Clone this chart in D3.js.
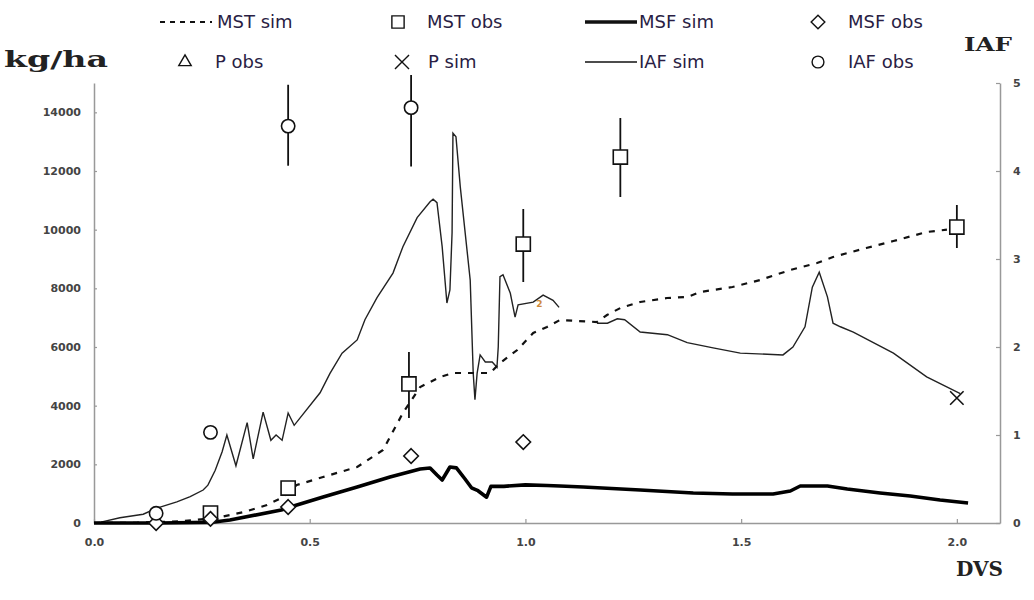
<!DOCTYPE html>
<html>
<head>
<meta charset="utf-8">
<script src="https://cdn.jsdelivr.net/npm/d3@7"></script>
<style>
  body { margin: 0; background: #fff; }
  svg { display: block; }
</style>
</head>
<body>
<div id="chart"></div>
<script>
// ---- data (DVS, value) ----
const mstSim = [[0,0],[0.1,10],[0.2,60],[0.27,150],[0.294,205],[0.348,375],[0.401,614],[0.434,850],
  [0.47,1295],[0.531,1568],[0.61,1909],[0.67,2489],[0.716,3750],[0.756,4636],[0.802,4977],[0.832,5114],
  [0.879,5114],[0.918,5114],[0.941,5454],[0.981,5897],[1.018,6477],[1.05,6682],[1.08,6920],[1.12,6886],
  [1.166,6852],[1.189,7090],[1.22,7329],[1.266,7534],[1.328,7670],[1.375,7704],[1.405,7875],[1.48,8045],
  [1.544,8284],[1.614,8625],[1.676,8863],[1.713,9068],[1.79,9375],[1.853,9613],[1.93,9920],[1.977,10000]];

const msfSim = [[0,0],[0.15,0],[0.27,20],[0.315,100],[0.434,443],[0.455,545],[0.531,886],[0.61,1227],
  [0.686,1568],[0.756,1841],[0.779,1875],[0.795,1636],[0.807,1466],[0.825,1909],[0.84,1880],[0.86,1500],
  [0.875,1200],[0.89,1100],[0.91,880],[0.92,1250],[0.95,1250],[1.0,1300],[1.05,1280],[1.08,1261],
  [1.134,1227],[1.266,1125],[1.389,1023],[1.48,989],[1.574,989],[1.614,1091],[1.637,1261],[1.70,1261],
  [1.746,1159],[1.822,1023],[1.892,920],[1.961,784],[2.026,682]];

const iafSim = [[0.016,0.01],[0.06,0.06],[0.114,0.10],[0.146,0.17],[0.192,0.24],[0.223,0.30],[0.253,0.375],
  [0.264,0.43],[0.281,0.60],[0.297,0.81],[0.308,1.00],[0.329,0.65],[0.355,1.14],[0.369,0.73],[0.392,1.26],
  [0.410,0.94],[0.422,1.00],[0.436,0.94],[0.450,1.25],[0.464,1.11],[0.524,1.48],[0.547,1.70],[0.575,1.93],
  [0.610,2.08],[0.628,2.31],[0.656,2.56],[0.693,2.84],[0.716,3.14],[0.749,3.47],[0.779,3.65],[0.786,3.68],
  [0.795,3.64],[0.807,3.14],[0.818,2.50],[0.825,2.65],[0.830,3.30],[0.832,4.43],[0.839,4.39],[0.849,3.82],
  [0.872,2.76],[0.879,1.70],[0.883,1.40],[0.888,1.70],[0.895,1.91],[0.907,1.83],[0.923,1.83],[0.934,1.77],
  [0.937,2.00],[0.941,2.80],[0.948,2.82],[0.965,2.61],[0.976,2.34],[0.983,2.48],[1.018,2.51],[1.041,2.59],
  [1.064,2.53],[1.078,2.45],[1.12,null],
  [1.166,2.27],[1.19,2.27],[1.213,2.32],[1.23,2.31],[1.266,2.17],[1.329,2.14],[1.375,2.05],[1.435,1.99],
  [1.498,1.93],[1.597,1.91],[1.62,2.0],[1.648,2.23],[1.665,2.68],[1.681,2.85],[1.70,2.57],[1.713,2.27],
  [1.73,2.23],[1.76,2.17],[1.853,1.93],[1.93,1.66],[2.008,1.47]];

// observations: [DVS, value, low, high]
const mstObs = [[0.27,340],[0.45,1190],[0.73,4740,3580,5830],[0.995,9510,8216,10704],
  [1.22,12477,11113,13806],[2.0,10090,9375,10841]];
const msfObs = [[0.144,0],[0.27,140],[0.45,545],[0.735,2285],[0.995,2760]];
const iafObs = [[0.144,0.11],[0.27,1.03],[0.45,4.51,4.06,4.98],[0.735,4.72,4.05,5.09]];
const pSim = [[2.0,4260]];
const pObs = [];

const yLeftTicks = [0,2000,4000,6000,8000,10000,12000,14000];
const yRightTicks = [0,1,2,3,4,5];
const xTicks = [0,0.5,1.0,1.5,2.0];

// ---- layout ----
const width = 1034, height = 600;
const x = d3.scaleLinear([0, 2.1], [94, 1000]);
const yL = d3.scaleLinear([0, 15000], [523, 83]);
const yR = d3.scaleLinear([0, 5], [523, 83]);

const svg = d3.select("#chart").append("svg")
    .attr("width", width)
    .attr("height", height)
    .style("font-family", "'DejaVu Sans', sans-serif");

// axes
function styleAxis(g) {
  g.select(".domain").attr("stroke", "#999").attr("stroke-width", 1.5);
  g.selectAll(".tick line").attr("stroke", "#999").attr("stroke-width", 1.2);
  g.selectAll(".tick text").attr("fill", "#444").style("font-size", "11px").style("font-weight", "bold")
      .style("font-family", "'DejaVu Sans', sans-serif");
}

svg.append("g")
    .attr("transform", `translate(${x(0)},0)`)
    .call(d3.axisLeft(yL).tickValues(yLeftTicks).tickFormat(d3.format("d")).tickSize(-3).tickSizeOuter(0).tickPadding(13))
    .call(styleAxis);

svg.append("g")
    .attr("transform", `translate(${x(2.1)},0)`)
    .call(d3.axisRight(yR).tickValues(yRightTicks).tickFormat(d3.format("d")).tickSize(-4).tickSizeOuter(0).tickPadding(13))
    .call(styleAxis);

svg.append("g")
    .attr("transform", `translate(0,${yL(0)})`)
    .call(d3.axisBottom(x).tickValues(xTicks).tickFormat(d3.format(".1f")).tickSize(-4).tickSizeOuter(0).tickPadding(15))
    .call(styleAxis);

// axis titles
const titleFont = "'DejaVu Serif', 'Liberation Serif', serif";
svg.append("text").attr("x", 4).attr("y", 67).text("kg/ha")
    .attr("textLength", 104).attr("lengthAdjust", "spacingAndGlyphs")
    .style("font-family", titleFont).style("font-weight", "bold").style("font-size", "23px").attr("fill", "#222");
svg.append("text").attr("x", 964).attr("y", 51).text("IAF")
    .attr("textLength", 48).attr("lengthAdjust", "spacingAndGlyphs")
    .style("font-family", titleFont).style("font-weight", "bold").style("font-size", "19px").attr("fill", "#222");
svg.append("text").attr("x", 956).attr("y", 576).text("DVS")
    .attr("textLength", 47).attr("lengthAdjust", "spacingAndGlyphs")
    .style("font-family", titleFont).style("font-weight", "bold").style("font-size", "20px").attr("fill", "#222");

// lines
const lineL = d3.line().x(d => x(d[0])).y(d => yL(d[1]));
const lineR = d3.line().defined(d => d[1] != null).x(d => x(d[0])).y(d => yR(d[1]));

svg.append("path").datum(iafSim)
    .attr("fill", "none").attr("stroke", "#222").attr("stroke-width", 1.4)
    .attr("d", lineR);

svg.append("path").datum(mstSim)
    .attr("fill", "none").attr("stroke", "#111").attr("stroke-width", 2.2)
    .attr("stroke-dasharray", "6,7")
    .attr("d", lineL);

svg.append("path").datum(msfSim)
    .attr("fill", "none").attr("stroke", "#000").attr("stroke-width", 3.6)
    .attr("stroke-linejoin", "round")
    .attr("d", lineL);

svg.append("text").attr("x", x(1.025)).attr("y", yR(2.45)).text("2")
    .attr("fill", "#d08a3a").style("font-size", "9px").style("font-weight", "bold");

// error bars
function errorBars(data, y) {
  svg.append("g").selectAll("line")
    .data(data.filter(d => d.length > 2))
    .join("line")
      .attr("x1", d => x(d[0])).attr("x2", d => x(d[0]))
      .attr("y1", d => y(d[2])).attr("y2", d => y(d[3]))
      .attr("stroke", "#111").attr("stroke-width", 1.8);
}
errorBars(mstObs, yL);
errorBars(iafObs, yR);

// markers
const sym = {
  square: d3.symbol(d3.symbolSquare, 200),
  diamond: d3.symbol(d3.symbolDiamond2, 135),
  circle: d3.symbol(d3.symbolCircle, 140),
  triangle: d3.symbol(d3.symbolTriangle2, 100),
  cross: d3.symbol(d3.symbolTimes, 120)
};

function markers(data, y, shape, filled) {
  svg.append("g").selectAll("path")
    .data(data)
    .join("path")
      .attr("transform", d => `translate(${x(d[0])},${y(d[1])})`)
      .attr("d", sym[shape])
      .attr("fill", filled ? "none" : "#fff")
      .attr("stroke", "#111").attr("stroke-width", 1.6);
}
markers(mstObs, yL, "square");
markers(msfObs, yL, "diamond");
markers(iafObs, yR, "circle");
markers(pObs, yL, "triangle");
markers(pSim, yL, "cross", true);

// legend
const legendItems = [
  {label: "MST sim", type: "line", dash: "5,5", w: 2, lx: 160, ty: 22, tx: 217},
  {label: "MST obs", type: "square", lx: 398, ty: 22, tx: 427},
  {label: "MSF sim", type: "line", w: 3.6, lx: 585, ty: 22, tx: 639},
  {label: "MSF obs", type: "diamond", lx: 818, ty: 22, tx: 848},
  {label: "P obs", type: "triangle", lx: 185, ty: 62, tx: 215},
  {label: "P sim", type: "cross", lx: 402, ty: 62, tx: 428},
  {label: "IAF sim", type: "line", w: 1.6, lx: 585, ty: 62, tx: 639},
  {label: "IAF obs", type: "circle", lx: 818, ty: 62, tx: 848}
];

const legendSym = {
  square: d3.symbol(d3.symbolSquare, 150),
  diamond: d3.symbol(d3.symbolDiamond2, 120),
  circle: d3.symbol(d3.symbolCircle, 110),
  triangle: d3.symbol(d3.symbolTriangle2, 110),
  cross: d3.symbol(d3.symbolTimes, 130)
};

const legend = svg.append("g");
legendItems.forEach(it => {
  if (it.type === "line") {
    legend.append("line")
      .attr("x1", it.lx).attr("x2", it.lx + 52)
      .attr("y1", it.ty).attr("y2", it.ty)
      .attr("stroke", "#111").attr("stroke-width", it.w)
      .attr("stroke-dasharray", it.dash || null);
  } else {
    legend.append("path")
      .attr("transform", `translate(${it.lx},${it.ty})`)
      .attr("d", legendSym[it.type])
      .attr("fill", it.type === "cross" ? "none" : "#fff")
      .attr("stroke", "#111").attr("stroke-width", 1.4);
  }
  legend.append("text")
    .attr("x", it.tx).attr("y", it.ty).attr("dy", "0.35em")
    .text(it.label)
    .attr("fill", "#2a1e44")
    .style("font-size", "18px");
});
</script>
</body>
</html>
